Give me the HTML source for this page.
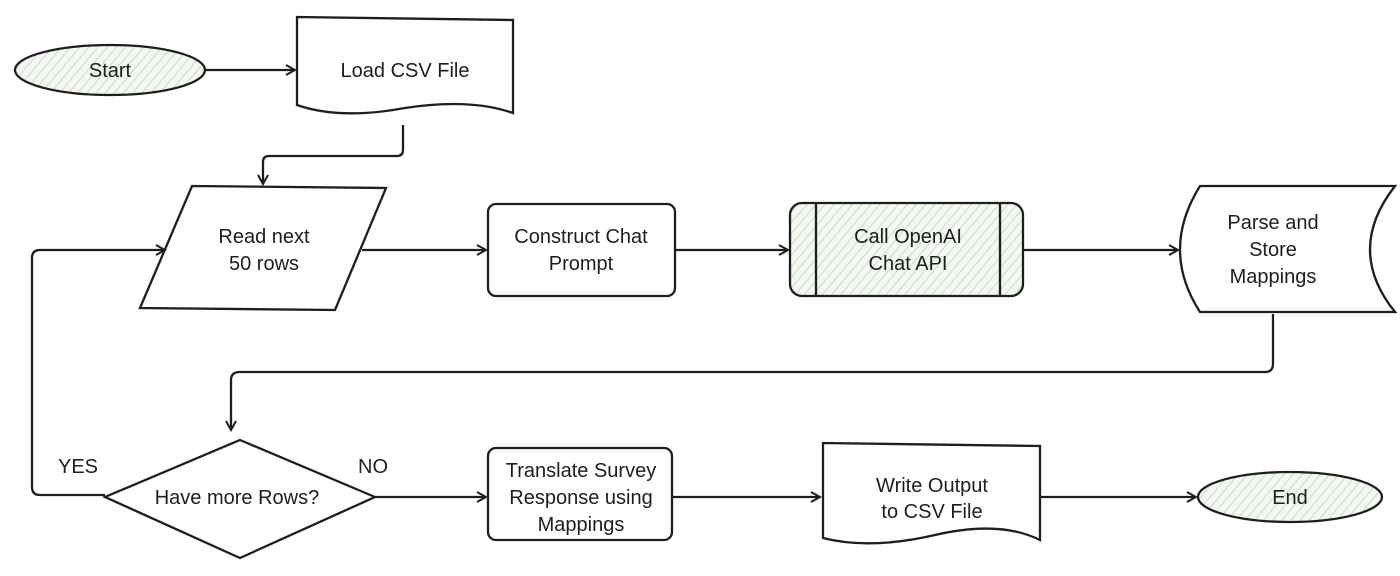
<!DOCTYPE html>
<html><head><meta charset="utf-8"><style>
html,body{margin:0;padding:0;background:#fff;width:1400px;height:576px;overflow:hidden}
text{font-family:"Liberation Sans",sans-serif;font-size:20px;fill:#1e1e1e}
</style></head><body>
<svg width="1400" height="576" viewBox="0 0 1400 576" xmlns="http://www.w3.org/2000/svg">
<defs>
<pattern id="h" width="7" height="7" patternUnits="userSpaceOnUse" patternTransform="rotate(40)">
<rect width="7" height="7" fill="#f4f8f2"/><line x1="0" y1="0" x2="0" y2="7" stroke="#b9d3b0" stroke-width="1.5"/></pattern>
<marker id="a" markerWidth="12" markerHeight="12" refX="10" refY="6" orient="auto" markerUnits="userSpaceOnUse">
<path d="M1,1 L10,6 L1,11" fill="none" stroke="#1e1e1e" stroke-width="2"/></marker>
</defs>
<g fill="none" stroke="#1e1e1e" stroke-width="2.3">
<ellipse cx="110" cy="70" rx="95" ry="25" fill="url(#h)"/>
<path d="M297,17 L513,20 L513,113 Q470,98 405,108 Q340,120 297,105 Z" fill="#fff"/>
<path d="M192,186 L386,188 L335,310 L140,308 Z" fill="#fff"/>
<rect x="488" y="204" width="187" height="92" rx="8" fill="#fff"/>
<rect x="790" y="203" width="233" height="93" rx="12" fill="url(#h)"/>
<line x1="816" y1="204" x2="816" y2="295"/><line x1="1000" y1="204" x2="1000" y2="295"/>
<path d="M1200,186 L1395,186 Q1345,250 1395,312 L1200,312 Q1160,250 1200,186 Z" fill="#fff"/>
<path d="M240,440 L375,497 L240,558 L105,497 Z" fill="#fff"/>
<rect x="488" y="448" width="184" height="92" rx="8" fill="#fff"/>
<path d="M823,443 L1040,446 L1040,540 Q1000,520 935,535 Q870,550 823,538 Z" fill="#fff"/>
<ellipse cx="1290" cy="497" rx="92" ry="25" fill="url(#h)"/>
<path d="M205,70 L295,70" marker-end="url(#a)"/>
<path d="M403,125 L403,150 Q403,156 397,156 L269,156 Q263,156 263,162 L263,184" marker-end="url(#a)"/>
<path d="M362,250 L486,250" marker-end="url(#a)"/>
<path d="M675,250 L788,250" marker-end="url(#a)"/>
<path d="M1023,250 L1178,250" marker-end="url(#a)"/>
<path d="M1273,314 L1273,364 Q1273,372 1265,372 L240,372 Q231,372 231,380 L231,430" marker-end="url(#a)"/>
<path d="M105,495 L40,495 Q32,495 32,487 L32,258 Q32,250 40,250 L165,250" marker-end="url(#a)"/>
<path d="M375,497 L486,497" marker-end="url(#a)"/>
<path d="M672,497 L820,497" marker-end="url(#a)"/>
<path d="M1040,497 L1196,497" marker-end="url(#a)"/>
</g>
<g text-anchor="middle">
<text x="110" y="77">Start</text>
<text x="405" y="77">Load CSV File</text>
<text x="264" y="243">Read next</text><text x="264" y="270">50 rows</text>
<text x="581" y="243">Construct Chat</text><text x="581" y="270">Prompt</text>
<text x="908" y="243">Call OpenAI</text><text x="908" y="270">Chat API</text>
<text x="1273" y="229">Parse and</text><text x="1273" y="256">Store</text><text x="1273" y="283">Mappings</text>
<text x="237" y="504">Have more Rows?</text>
<text x="581" y="477">Translate Survey</text><text x="581" y="504">Response using</text><text x="581" y="531">Mappings</text>
<text x="932" y="492">Write Output</text><text x="932" y="518">to  CSV File</text>
<text x="1290" y="504">End</text>
<text x="78" y="473">YES</text>
<text x="373" y="473">NO</text>
</g>
</svg>
</body></html>
